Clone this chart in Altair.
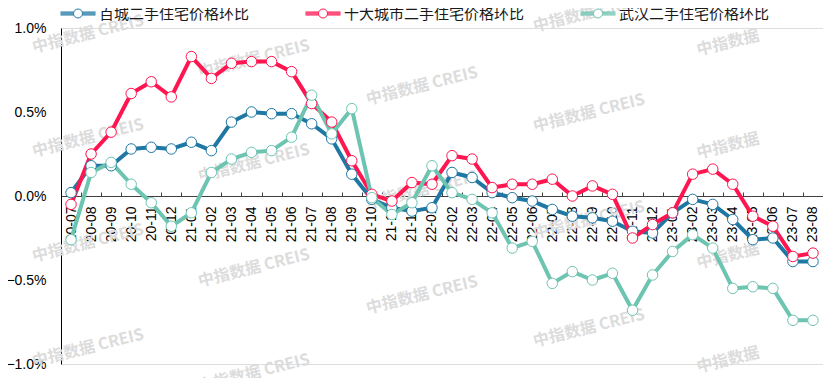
import math
import altair as alt
import pandas as pd

months = ["20-07", "20-08", "20-09", "20-10", "20-11", "20-12",
          "21-01", "21-02", "21-03", "21-04", "21-05", "21-06",
          "21-07", "21-08", "21-09", "21-10", "21-11", "21-12",
          "22-01", "22-02", "22-03", "22-04", "22-05", "22-06",
          "22-07", "22-08", "22-09", "22-10", "22-11", "22-12",
          "23-01", "23-02", "23-03", "23-04", "23-05", "23-06",
          "23-07", "23-08"]

names = ["百城二手住宅价格环比", "十大城市二手住宅价格环比", "武汉二手住宅价格环比"]
colors = ["#1F78A4", "#FF1550", "#6CC4B1"]

baicheng = [0.02, 0.18, 0.18, 0.28, 0.29, 0.28, 0.32, 0.27, 0.44, 0.50, 0.49, 0.49,
            0.43, 0.34, 0.13, -0.02, -0.07, -0.09, -0.07, 0.14, 0.11, 0.02, -0.01, -0.03,
            -0.08, -0.12, -0.13, -0.15, -0.21, -0.22, -0.10, -0.02, -0.05, -0.14, -0.26, -0.25,
            -0.39, -0.39]
top10 = [-0.05, 0.25, 0.38, 0.61, 0.68, 0.59, 0.83, 0.70, 0.79, 0.80, 0.80, 0.74,
         0.55, 0.44, 0.21, 0.01, -0.03, 0.08, 0.07, 0.24, 0.22, 0.05, 0.07, 0.07,
         0.10, 0.00, 0.06, 0.01, -0.25, -0.17, -0.10, 0.13, 0.16, 0.07, -0.12, -0.18,
         -0.36, -0.34]
wuhan = [-0.26, 0.14, 0.20, 0.07, -0.04, -0.18, -0.10, 0.14, 0.22, 0.26, 0.27, 0.35,
         0.60, 0.37, 0.52, -0.01, -0.11, -0.04, 0.18, 0.02, -0.02, -0.10, -0.31, -0.27,
         -0.52, -0.45, -0.50, -0.46, -0.68, -0.47, -0.33, -0.23, -0.31, -0.55, -0.54, -0.55,
         -0.74, -0.74]

y_ticks = [-1.0, -0.5, 0.0, 0.5, 1.0]

wm_full = "中指数据 CREIS"
wm_short = "中指数据"
wm_full_pos = [(27, 6), (27, 110), (27, 215), (27, 320),
               (193, 31), (193, 135), (193, 240), (193, 345),
               (361, 58), (361, 162), (361, 267),
               (528, -15), (528, 85), (528, 192), (528, 300)]
wm_short_pos = [(667, 15), (667, 118), (667, 228), (667, 332)]

rows = []
for name, vals in zip(names, [baicheng, top10, wuhan]):
    for m, v in zip(months, vals):
        rows.append({"month": m, "series": name, "value": v})
df = pd.DataFrame(rows)

W, H = 762, 336
step = W / len(months)

# legend symbol: thick line (four 1px strokes) broken by a small white circle
sym_half = 17.5          # sqrt(symbolSize) / 2
circ_r = 4.5
parts = []
for dy in (-1.5, -0.5, 0.5, 1.5):
    x0 = math.sqrt(circ_r ** 2 - dy ** 2) / sym_half
    yy = dy / sym_half
    parts.append(f"M-1,{yy:.4f}L{-x0:.4f},{yy:.4f}M{x0:.4f},{yy:.4f}L1,{yy:.4f}")
rr = circ_r / sym_half
parts.append(f"M{rr:.4f},0A{rr:.4f},{rr:.4f},0,1,1,{-rr:.4f},0A{rr:.4f},{rr:.4f},0,1,1,{rr:.4f},0Z")
legend_path = "".join(parts)

y_axis = alt.Axis(values=y_ticks, labelExpr="format(datum.value, '.1f') + '%'",
                  grid=False, ticks=False, domainColor="#000000", domainWidth=1,
                  labelFont="Liberation Sans", labelFontSize=14, labelColor="#000000",
                  labelPadding=15, title=None)
y_enc = alt.Y("value:Q", scale=alt.Scale(domain=[-1, 1], nice=False), axis=y_axis)

x_scale = alt.Scale(type="point", padding=0.5)

legend_font = "Noto Sans CJK SC"

lines = alt.Chart(df).mark_line(strokeWidth=4, strokeJoin="round").encode(
    x=alt.X("month:O", sort=months, scale=x_scale,
            axis=alt.Axis(orient="bottom", offset=-H / 2, domainColor="#404040",
                          ticks=False, labelAngle=270, labelAlign="right",
                          labelBaseline="middle", labelPadding=10,
                          labelFont="Liberation Sans", labelFontSize=14,
                          labelColor="#000000", labelOverlap=False, title=None)),
    y=y_enc,
    color=alt.Color("series:N", scale=alt.Scale(domain=names, range=colors),
                    legend=alt.Legend(orient="none", legendX=-1, legendY=-32.5,
                                      direction="horizontal", title=None,
                                      symbolType=legend_path, symbolSize=1225,
                                      symbolStrokeWidth=1, symbolFillColor="white",
                                      labelFont=legend_font,
                                      labelFontSize=15, labelColor="#1a1a1a",
                                      labelLimit=400,
                                      labelOffset=3, columnPadding=53, padding=0)),
    detail="series:N",
)

points = alt.Chart(df).mark_point(shape="circle", filled=True, fill="white",
                                  size=110, strokeWidth=1, opacity=1).encode(
    x=alt.X("month:O", sort=months, scale=x_scale,
            axis=alt.Axis(orient="top", offset=-H / 2, labels=False, domain=False,
                          ticks=True, tickSize=4, tickColor="#404040",
                          tickOffset=step / 2, title=None)),
    y=y_enc,
    stroke=alt.Stroke("series:N", scale=alt.Scale(domain=names, range=colors),
                      legend=None),
)

wm_layers = []
for (px, py) in wm_full_pos:
    wm_layers.append(
        alt.Chart(alt.Data(values=[{"k": 0}])).mark_text(
            text=wm_full, angle=346, font="Noto Sans CJK SC", fontWeight="bold",
            fontSize=16, color="#dcdcdc", align="center", baseline="middle"
        ).encode(x=alt.value(px), y=alt.value(py))
    )
for (px, py) in wm_short_pos:
    wm_layers.append(
        alt.Chart(alt.Data(values=[{"k": 0}])).mark_text(
            text=wm_short, angle=346, font="Noto Sans CJK SC", fontWeight="bold",
            fontSize=16, color="#dcdcdc", align="center", baseline="middle"
        ).encode(x=alt.value(px), y=alt.value(py))
    )

chart = alt.layer(*wm_layers, lines, points).resolve_axis(x="independent").properties(
    width=W, height=H,
    autosize=alt.AutoSizeParams(type="none"),
    padding={"left": 53, "top": 20, "right": 0, "bottom": 14},
).configure_view(stroke=None).configure(background="white")

chart.save("out.html", embed_options={"renderer": "svg", "actions": False})
